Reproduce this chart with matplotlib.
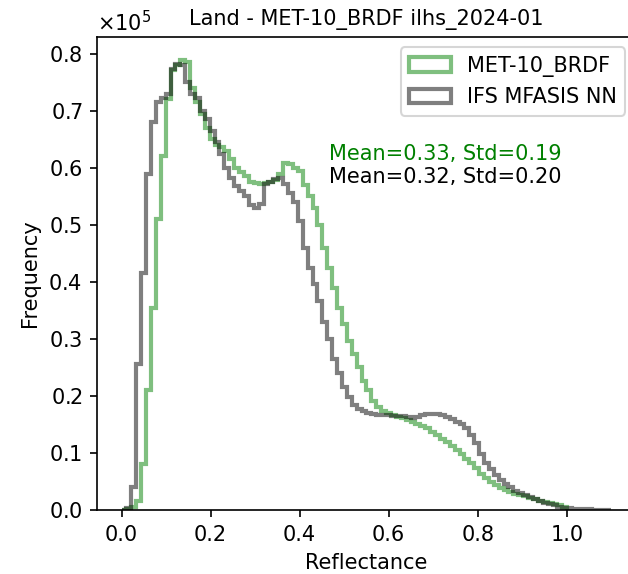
import matplotlib
matplotlib.use('Agg')
import matplotlib.pyplot as plt
import numpy as np

# bin edges shared by both histograms (reflectance)
edges = np.linspace(0.0, 1.1, 101)

# counts per bin, in units of 1e5
met10 = [0.0, 0.002, 0.006, 0.015, 0.08, 0.21, 0.355, 0.51, 0.62, 0.72,
         0.772, 0.78, 0.79, 0.785, 0.74, 0.715, 0.695, 0.67, 0.65, 0.64,
         0.636, 0.63, 0.615, 0.6, 0.592, 0.585, 0.575, 0.573, 0.572, 0.573,
         0.575, 0.578, 0.59, 0.608, 0.606, 0.6, 0.594, 0.57, 0.55, 0.53,
         0.50, 0.46, 0.425, 0.39, 0.355, 0.327, 0.297, 0.274, 0.25, 0.227,
         0.21, 0.192, 0.18, 0.174, 0.17, 0.166, 0.163, 0.161, 0.158, 0.155,
         0.151, 0.147, 0.143, 0.137, 0.132, 0.125, 0.119, 0.112, 0.106, 0.099,
         0.09, 0.082, 0.073, 0.064, 0.056, 0.049, 0.044, 0.039, 0.035, 0.031,
         0.028, 0.026, 0.024, 0.021, 0.019, 0.016, 0.014, 0.012, 0.01, 0.008,
         0.006]

ifs_nn = [0.0, 0.003, 0.04, 0.256, 0.416, 0.59, 0.68, 0.716, 0.722, 0.73,
          0.774, 0.783, 0.78, 0.75, 0.73, 0.722, 0.70, 0.685, 0.665, 0.645,
          0.625, 0.60, 0.582, 0.568, 0.559, 0.55, 0.535, 0.53, 0.536, 0.571,
          0.576, 0.58, 0.583, 0.572, 0.556, 0.54, 0.507, 0.46, 0.425, 0.396,
          0.367, 0.33, 0.30, 0.265, 0.24, 0.215, 0.198, 0.185, 0.178, 0.174,
          0.17, 0.168, 0.166, 0.166, 0.166, 0.165, 0.165, 0.164, 0.163, 0.162,
          0.163, 0.166, 0.168, 0.169, 0.169, 0.167, 0.163, 0.16, 0.155, 0.15,
          0.143, 0.132, 0.117, 0.098, 0.083, 0.072, 0.062, 0.053, 0.046, 0.040,
          0.034, 0.030, 0.026, 0.022, 0.019, 0.016, 0.013, 0.010, 0.008, 0.006,
          0.004, 0.003, 0.002, 0.0015, 0.001, 0.001, 0.0008, 0.0005, 0.0003, 0.0002]

met10 = np.array(met10) * 1e5
ifs_nn = np.array(ifs_nn) * 1e5
met_edges = edges[:len(met10) + 1]

fig = plt.figure(figsize=(628 / 150, 574 / 150), dpi=150)
ax = fig.add_axes([0.1545, 0.1115, 0.858, 0.824])

ax.hist(met_edges[:-1], bins=met_edges, weights=met10, histtype='step',
        color='green', alpha=0.5, linewidth=2, label='MET-10_BRDF')
ax.hist(edges[:-1], bins=edges, weights=ifs_nn, histtype='step',
        color='black', alpha=0.5, linewidth=2, label='IFS MFASIS NN')

ax.text(0.43, 0.753, 'Mean=0.33, Std=0.19', color='green',
        transform=ax.transAxes, va='center')
ax.text(0.43, 0.704, 'Mean=0.32, Std=0.20', color='black',
        transform=ax.transAxes, va='center')

ax.set_title('Land - MET-10_BRDF ilhs_2024-01', fontsize=10)
ax.set_xlabel('Reflectance')
ax.set_ylabel('Frequency')
ax.ticklabel_format(axis='y', style='sci', scilimits=(5, 5), useMathText=True)
ax.legend(loc='upper right')

fig.savefig('out.png', dpi=150)
